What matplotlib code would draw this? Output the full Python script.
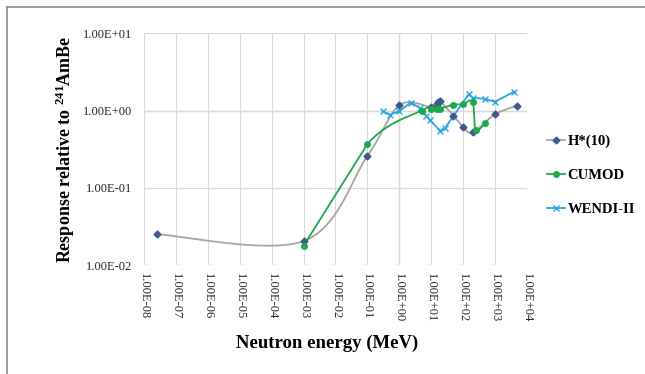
import numpy as np
import matplotlib
matplotlib.use('Agg')
from matplotlib import pyplot as plt
from matplotlib.lines import Line2D

plt.rcParams['font.family'] = ['Liberation Serif', 'DejaVu Serif']
plt.rcParams['mathtext.fontset'] = 'custom'
plt.rcParams['mathtext.rm'] = 'Liberation Serif'
plt.rcParams['mathtext.bf'] = 'Liberation Serif:bold'
plt.rcParams['mathtext.default'] = 'bf'

# data (energy in MeV, response relative to 241AmBe)
hstar_e = [2.53e-8, 1e-3, 0.1, 1, 10, 14.8, 17, 19, 50, 100, 200, 1000, 5000]
hstar_r = [0.025, 0.0204, 0.258, 1.17, 1.11, 1.21, 1.29, 1.33, 0.86, 0.62, 0.52, 0.89, 1.16]

cumod_e = [1e-3, 0.1, 5, 10, 14.8, 19, 50, 100, 200, 250, 500]
cumod_r = [0.0178, 0.368, 1.0, 1.05, 1.04, 1.06, 1.19, 1.21, 1.30, 0.56, 0.70]

wendi_e = [0.3, 0.5, 1, 2.3, 4.5, 7, 9, 19, 27, 150, 200, 500, 1000, 4000]
wendi_r = [0.99, 0.88, 0.98, 1.27, 1.08, 0.86, 0.76, 0.55, 0.59, 1.62, 1.47, 1.41, 1.30, 1.75]

x_ticks = [10.0 ** k for k in range(-8, 5)]
y_ticks = [1e-2, 1e-1, 1e0, 1e1]


# excel-like smoothed line, done in log space
def smooth(xs, ys, n=40, straight_first=False):
    px = np.log10(xs)
    py = np.log10(ys)
    outx, outy = [], []
    for i in range(len(px) - 1):
        p0 = np.array([px[max(i - 1, 0)], py[max(i - 1, 0)]])
        p1 = np.array([px[i], py[i]])
        p2 = np.array([px[i + 1], py[i + 1]])
        p3 = np.array([px[min(i + 2, len(px) - 1)], py[min(i + 2, len(px) - 1)]])
        c1 = p1 + (p2 - p0) / 6.0
        c2 = p2 - (p3 - p1) / 6.0
        if straight_first and i == 0:
            c1 = p1 + (p2 - p1) / 3.0
            c2 = p2 - (p2 - p1) / 3.0
        t = np.linspace(0, 1, n)[:, None]
        b = (1 - t) ** 3 * p1 + 3 * (1 - t) ** 2 * t * c1 + 3 * (1 - t) * t ** 2 * c2 + t ** 3 * p2
        outx.extend(b[:, 0])
        outy.extend(b[:, 1])
    return 10 ** np.array(outx), 10 ** np.array(outy)


fig = plt.figure(figsize=(6.45, 3.74), dpi=100)
ax = fig.add_axes([0.2237, 0.2914, 0.5929, 0.6195])
ax.set_xscale('log')
ax.set_yscale('log')
ax.set_xlim(1e-8, 1e4)
ax.set_ylim(1e-2, 1e1)

for s in ax.spines.values():
    s.set_visible(False)
ax.grid(True, which='major', color='#d9d9d9', linewidth=0.8)
ax.minorticks_off()
ax.axhline(1, color='#bfbfbf', linewidth=0.9, zorder=1)
ax.axvline(1, color='#bfbfbf', linewidth=0.9, zorder=1)

green = '#1fa84a'
blue = '#2aa6e0'
gray = '#a5a5a5'
navy = '#3d5a8e'

sx, sy = smooth(hstar_e, hstar_r)
ax.plot(sx, sy, color=gray, linewidth=1.3, zorder=2)
ax.plot(hstar_e, hstar_r, linestyle='none', marker='D', markersize=3.5, color=navy, zorder=5)

gx, gy = smooth(cumod_e, cumod_r, straight_first=True)
ax.plot(gx, gy, color=green, linewidth=1.3, zorder=3)
ax.plot(cumod_e, cumod_r, linestyle='none', marker='o', markersize=4, color=green, zorder=5)

ax.plot(wendi_e, wendi_r, color=blue, linewidth=1.3, marker='x', markersize=5,
        markeredgewidth=1.0, zorder=4)

ax.set_xticks(x_ticks)
ax.set_xticklabels(['%.2E' % v for v in x_ticks], rotation=-90, fontsize=9)
ax.set_yticks(y_ticks)
ax.set_yticklabels(['%.2E' % v for v in y_ticks], fontsize=9)
ax.tick_params(axis='y', length=0, pad=9, colors='#262626')
ax.tick_params(axis='x', length=0, pad=6, colors='#262626')

ax.set_xlabel('Neutron energy (MeV)', fontsize=13.5, fontweight='bold')
ax.set_ylabel('Response relative to $^{241}$AmBe', fontsize=13, fontweight='bold')
ax.xaxis.set_label_coords(0.478, -0.30)
ax.yaxis.set_label_coords(-0.177, 0.5)

handles = [
    Line2D([], [], color=gray, marker='D', markersize=3.5, markerfacecolor=navy,
           markeredgecolor=navy, linewidth=1.3),
    Line2D([], [], color=green, marker='o', markersize=4, linewidth=1.3),
    Line2D([], [], color=blue, marker='x', markersize=4, linewidth=1.3),
]
fig.legend(handles, ['H*(10)', 'CUMOD', 'WENDI-II'], loc='center left',
           bbox_to_anchor=(0.836, 0.532), frameon=False, borderpad=0, handlelength=1.3,
           handletextpad=0.15, labelspacing=1.42, prop={'weight': 'bold', 'size': 10.5})

# chart border
fig.add_artist(Line2D([0.011, 0.011], [0.0, 0.982], color='#8c8c8c', linewidth=1.2))
fig.add_artist(Line2D([0.011, 1.0], [0.982, 0.982], color='#8c8c8c', linewidth=1.2))

fig.savefig('out.png', dpi=100)
